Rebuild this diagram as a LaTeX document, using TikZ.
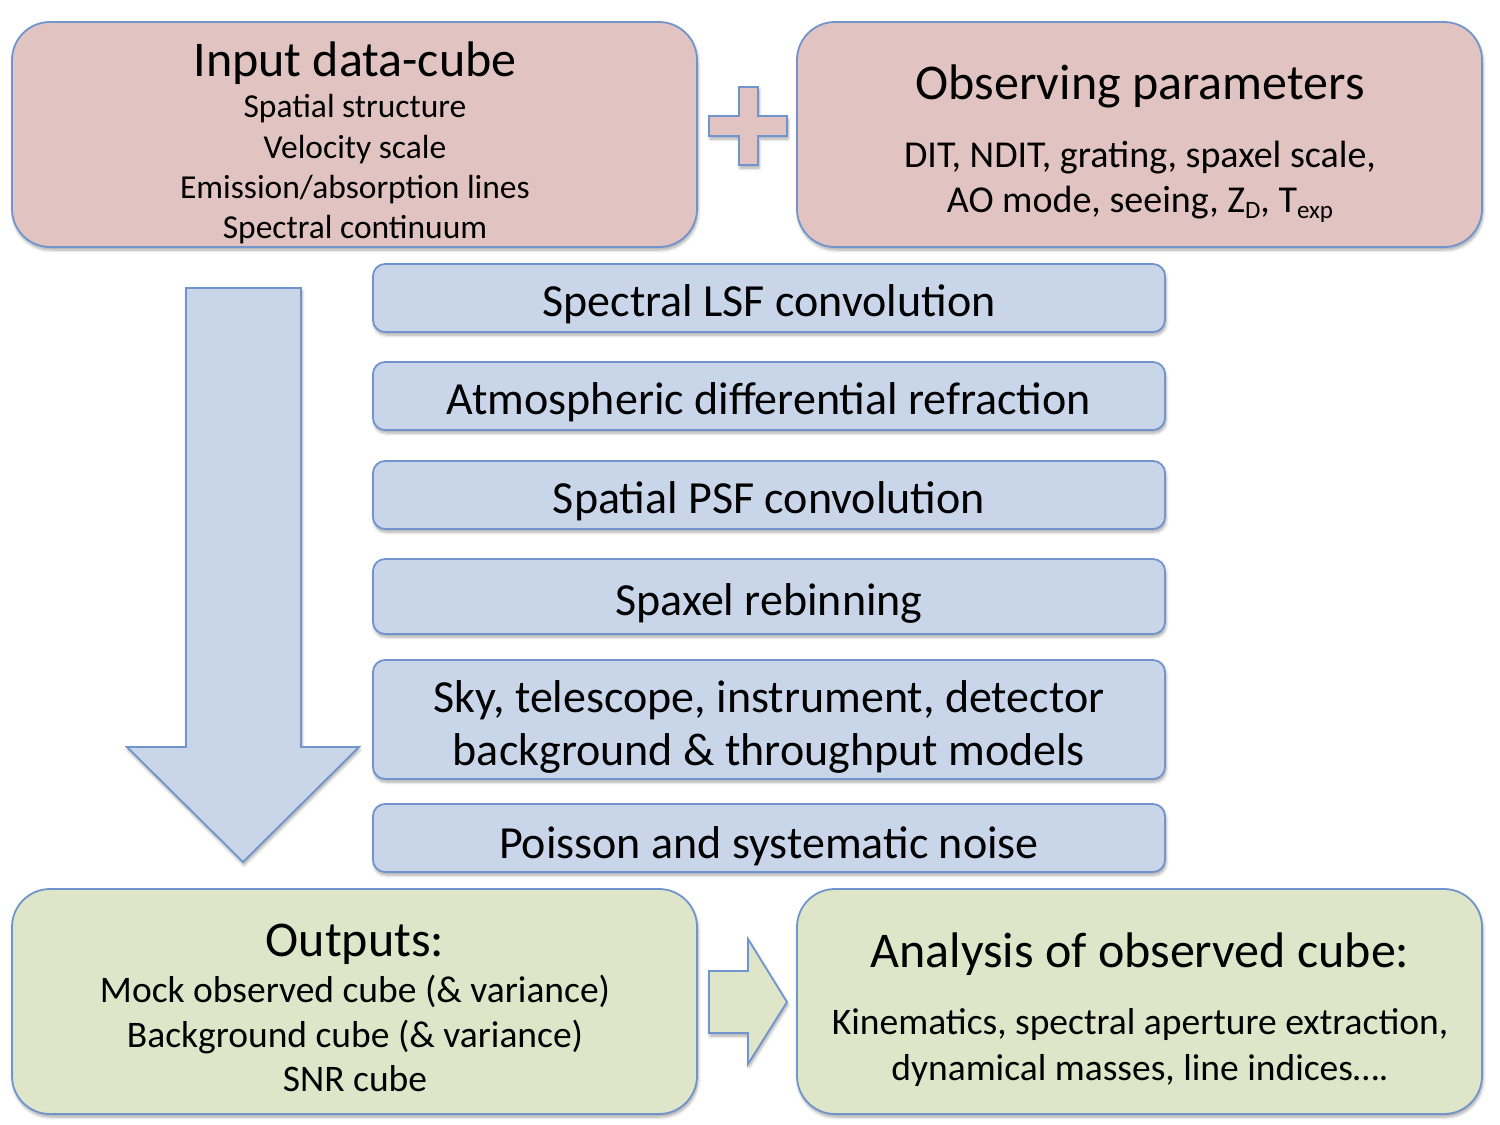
\documentclass[tikz,border=0pt]{standalone}
\usepackage{fontspec}
\setmainfont{Carlito}
\usetikzlibrary{shadows.blur}
\definecolor{pinkfill}{HTML}{E1C4C2}
\definecolor{bluefill}{HTML}{C9D6EA}
\definecolor{greenfill}{HTML}{DFE5C9}
\definecolor{edgeblue}{HTML}{7094CB}
\newcommand\lowsub[1]{\raisebox{-0.35ex}{\fontsize{25}{25}\selectfont #1}}
\tikzset{
  shade/.style={blur shadow={shadow xshift=1pt, shadow yshift=-3pt, shadow blur radius=3pt, shadow blur steps=6, shadow opacity=35}},
  bigbox/.style={draw=edgeblue, line width=1.8pt, rounded corners=38pt, shade, minimum width=685pt, minimum height=225pt, inner sep=0pt},
  stepbox/.style={draw=edgeblue, line width=1.8pt, rounded corners=12pt, fill=bluefill, shade, minimum width=792pt, inner sep=0pt, align=center},
  txt/.style={inner sep=0pt, text height=0.644em, text depth=0pt, align=center},
  blockarrow/.style={draw=edgeblue, line width=1.8pt, line join=miter, shade},
  steptext/.style={font=\fontsize{46}{46}\selectfont},
}
\begin{document}
\begin{tikzpicture}[x=1pt, y=-1pt]
\useasboundingbox (0,0) rectangle (1500,1125);

% top boxes
\node[bigbox, fill=pinkfill] (input) at (354.5,134.5) {};
\node[bigbox, fill=pinkfill] (obs) at (1139.5,134.5) {};
% plus sign
\draw[blockarrow, fill=pinkfill] (739,87) -- (758,87) -- (758,116) -- (787,116) -- (787,136) -- (758,136) -- (758,165) -- (739,165) -- (739,136) -- (709,136) -- (709,116) -- (739,116) -- cycle;

\node[txt, font=\fontsize{50}{50}\selectfont] (t1) at (355,73) {Input data-cube};
\node[txt, font=\fontsize{33.5}{33.5}\selectfont] (t1a) at (355,114) {Spatial structure};
\node[txt, font=\fontsize{33.5}{33.5}\selectfont] (t1b) at (355,155) {Velocity scale};
\node[txt, font=\fontsize{33.5}{33.5}\selectfont] (t1c) at (355,195) {Emission/absorption lines};
\node[txt, font=\fontsize{33.5}{33.5}\selectfont] (t1d) at (355,235) {Spectral continuum};

\node[txt, font=\fontsize{50}{50}\selectfont] (t2) at (1140,96) {Observing parameters};
\node[txt, font=\fontsize{38}{38}\selectfont] (t2a) at (1140,164) {DIT, NDIT, grating, spaxel scale,};
\node[txt, font=\fontsize{38}{38}\selectfont] (t2b) at (1140,209) {AO mode, seeing, Z\lowsub{D}, T\lowsub{exp}};

% steps
\node[stepbox, minimum height=68pt] (s1) at (769,298) {};
\node[txt, steptext] (s1t) at (769,313) {Spectral LSF convolution};
\node[stepbox, minimum height=68pt] (s2) at (769,396) {};
\node[txt, steptext] (s2t) at (769,411) {Atmospheric differential refraction};
\node[stepbox, minimum height=68pt] (s3) at (769,495) {};
\node[txt, steptext] (s3t) at (769,510) {Spatial PSF convolution};
\node[stepbox, minimum height=75pt] (s4) at (769,596.5) {};
\node[txt, steptext] (s4t) at (769,612) {Spaxel rebinning};
\node[stepbox, minimum height=119pt] (s5) at (769,719.5) {};
\node[txt, steptext] (s5a) at (769,709) {Sky, telescope, instrument, detector};
\node[txt, steptext] (s5b) at (769,762) {background \& throughput models};
\node[stepbox, minimum height=68pt] (s6) at (769,838) {};
\node[txt, steptext] (s6t) at (769,855) {Poisson and systematic noise};

% down arrow
\draw[blockarrow, fill=bluefill] (186,288) -- (301,288) -- (301,747) -- (359,747) -- (243,862) -- (127,747) -- (186,747) -- cycle;

% bottom boxes
\node[bigbox, fill=greenfill] (out) at (354.5,1001.5) {};
\node[bigbox, fill=greenfill] (ana) at (1139.5,1001.5) {};

\draw[blockarrow, fill=greenfill] (709,971) -- (748,971) -- (748,939) -- (787,1002) -- (748,1064) -- (748,1033) -- (709,1033) -- cycle;

\node[txt, font=\fontsize{50}{50}\selectfont] (t3) at (355,953) {Outputs:};
\node[txt, font=\fontsize{37.5}{37.5}\selectfont] (t3a) at (355,999) {Mock observed cube (\& variance)};
\node[txt, font=\fontsize{37.5}{37.5}\selectfont] (t3b) at (355,1044) {Background cube (\& variance)};
\node[txt, font=\fontsize{37.5}{37.5}\selectfont] (t3c) at (355,1088) {SNR cube};

\node[txt, font=\fontsize{50}{50}\selectfont] (t4) at (1140,964) {Analysis of observed cube:};
\node[txt, font=\fontsize{37.5}{37.5}\selectfont] (t4a) at (1140,1031) {Kinematics, spectral aperture extraction,};
\node[txt, font=\fontsize{37.5}{37.5}\selectfont] (t4b) at (1140,1077) {dynamical masses, line indices\ldots.};
\end{tikzpicture}
\end{document}
